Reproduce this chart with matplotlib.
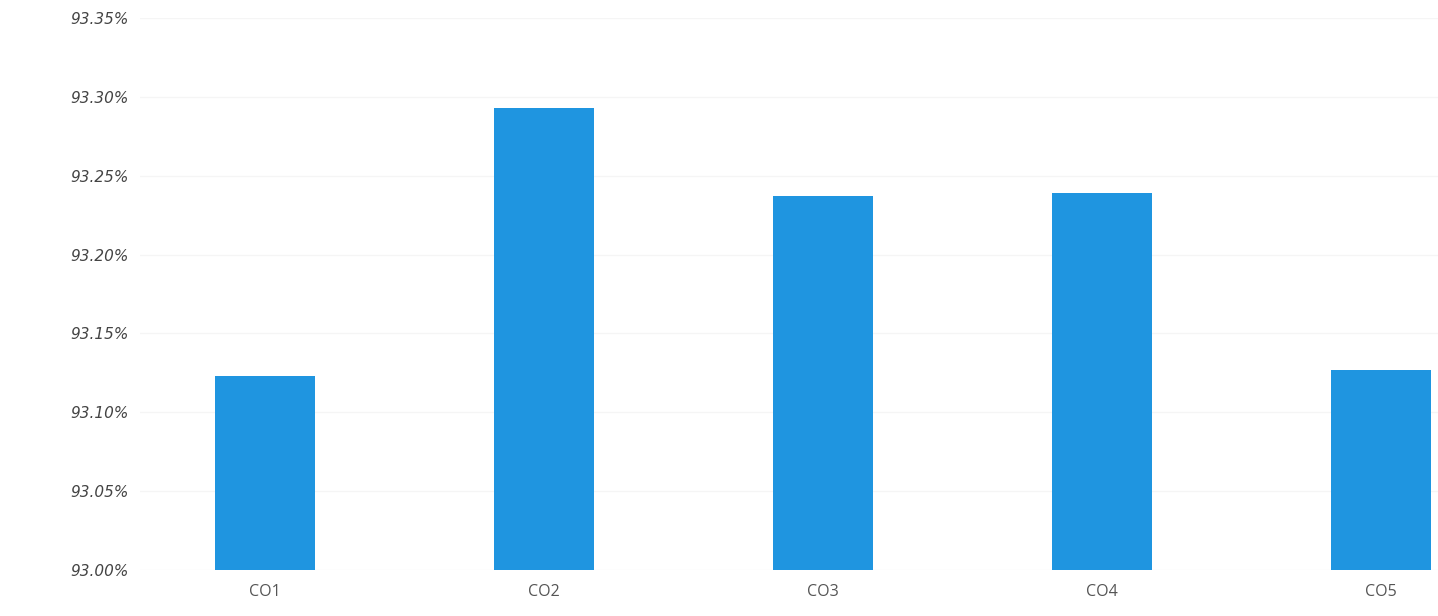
import matplotlib
matplotlib.use("Agg")
from matplotlib import pyplot as plt
from matplotlib.ticker import FuncFormatter

# Data
categories = ["CO1", "CO2", "CO3", "CO4", "CO5"]
values = [93.123, 93.293, 93.237, 93.239, 93.127]  # percent
yticks = [93.00, 93.05, 93.10, 93.15, 93.20, 93.25, 93.30, 93.35]

fig = plt.figure(figsize=(14.38, 6.16), dpi=100)
ax = fig.add_axes([140 / 1438, 1 - 570 / 616, 1 - 140 / 1438, (570 - 18) / 616])

x = range(len(categories))
ax.bar(x, values, width=0.36, color="#1f95e0", zorder=2)

step = 279  # px between categories
ax.set_ylim(93.00, 93.35)
ax.set_yticks(yticks)
ax.yaxis.set_major_formatter(FuncFormatter(lambda v, p: f"{v:.2f}%"))
ax.set_xlim(-(265 - 140) / step, (1438 - 265) / step)
ax.set_xticks(list(x))
ax.set_xticklabels(categories)

# Faint gridlines
ax.grid(axis="y", color="#f5f5f5", linewidth=1, zorder=0)
for s in ax.spines.values():
    s.set_visible(False)
ax.tick_params(axis="both", length=0)
ax.tick_params(axis="y", pad=8)
ax.tick_params(axis="x", pad=10)

for lbl in ax.get_yticklabels():
    lbl.set_fontstyle("italic")
    lbl.set_fontsize(11)
    lbl.set_color("#444444")
for lbl in ax.get_xticklabels():
    lbl.set_fontfamily("Open Sans")
    lbl.set_fontsize(11.5)
    lbl.set_color("#555555")

fig.savefig("out.png", dpi=100, facecolor="white")
